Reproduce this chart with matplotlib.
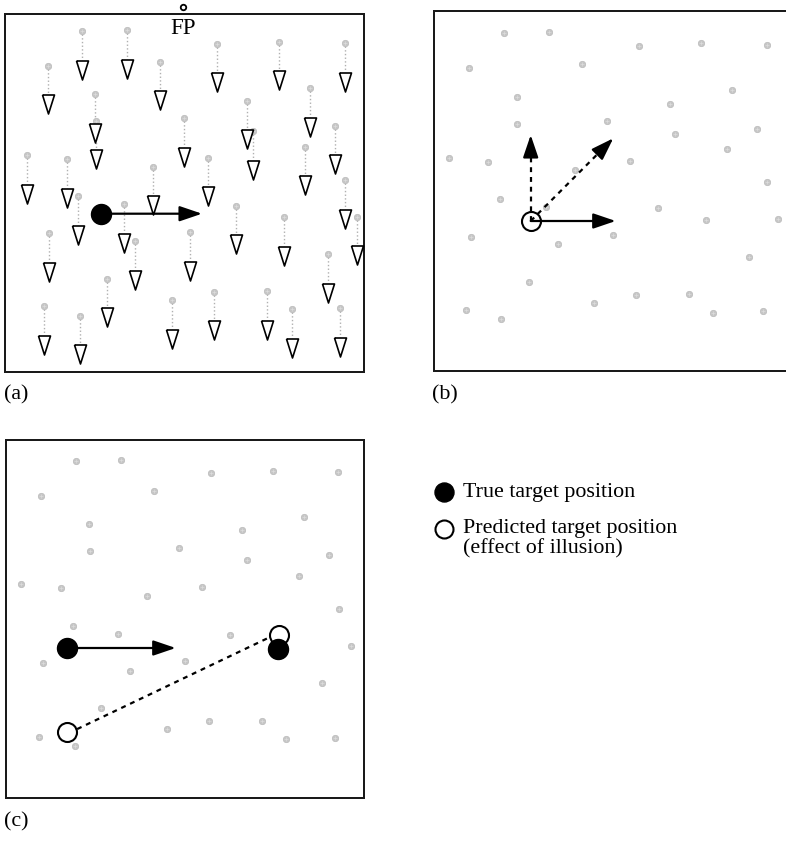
import numpy as np
import matplotlib.pyplot as plt

W, H = 786, 841          # tamaño de la figura en píxeles
PT = 72 / 100            # puntos por píxel (dpi = 100)

plt.rcParams['font.family'] = ['Liberation Serif', 'DejaVu Serif']

# Panel (a): puntos del fondo que se mueven hacia abajo
a_dot_x = [81.7, 127.0, 47.7, 160.3, 217.3, 278.7, 344.7, 95.3, 95.7, 310.3,
           247.3, 253.3, 184.3, 335.0, 304.7, 27.0, 66.7, 153.0, 207.7, 78.3,
           124.0, 236.0, 345.0, 356.7, 284.3, 49.3, 135.0, 190.3, 327.7, 106.7,
           44.0, 79.7, 172.0, 214.3, 267.0, 292.0, 340.3]
a_dot_y = [31.0, 30.0, 65.7, 61.7, 43.7, 41.7, 43.0, 94.0, 120.7, 88.0,
           100.7, 131.0, 118.3, 125.7, 146.7, 155.0, 159.0, 166.7, 157.7, 196.0,
           204.3, 205.7, 180.0, 216.7, 217.3, 233.3, 241.3, 232.3, 254.3, 278.7,
           306.3, 315.7, 300.0, 291.7, 291.0, 309.0, 308.3]
a_target = (101.0, 213.7)
a_motion_end = (202.0, 213.7)
fp_pos = (182.7, 7.3)

# Panel (b)
b_dot_x = [504.3, 549.3, 639.3, 701.0, 766.7, 469.3, 582.3, 517.3, 732.3, 669.7,
           517.3, 606.7, 675.0, 757.0, 727.0, 449.0, 488.3, 629.7, 575.0, 767.0,
           500.3, 546.3, 658.0, 706.3, 778.3, 471.0, 558.0, 612.7, 749.3, 529.0,
           636.3, 689.3, 594.0, 465.7, 501.3, 713.3, 762.7]
b_dot_y = [33.0, 31.7, 45.7, 43.3, 44.7, 68.0, 63.7, 96.7, 90.3, 104.0,
           124.3, 121.3, 134.0, 128.7, 149.3, 157.7, 162.0, 160.7, 170.0, 182.0,
           198.7, 207.3, 208.3, 219.7, 219.0, 236.7, 244.3, 234.7, 256.7, 282.3,
           295.0, 294.3, 303.0, 310.0, 319.3, 312.7, 311.3]
b_center = (530.7, 221.0)
b_solid_tip = (615.7, 221.0)
b_dashed_tips = [(530.7, 135.0), (613.3, 138.3)]

# Panel (c)
c_dot_x = [76.0, 121.0, 211.3, 272.7, 338.3, 41.3, 154.3, 89.3, 304.3, 241.7,
           90.0, 178.7, 247.3, 329.0, 299.3, 21.0, 60.7, 201.7, 147.3, 339.0,
           72.7, 118.3, 230.3, 350.7, 43.0, 185.3, 130.3, 322.0, 101.3, 208.7,
           262.0, 166.7, 38.7, 75.0, 286.0, 335.3]
c_dot_y = [461.0, 460.0, 473.0, 471.0, 472.3, 495.7, 491.3, 523.7, 517.3, 530.0,
           550.7, 547.7, 560.3, 555.0, 575.7, 584.0, 588.3, 587.0, 596.0, 609.0,
           625.7, 634.0, 635.0, 645.7, 663.3, 661.3, 671.0, 683.3, 708.3, 721.0,
           720.7, 729.0, 736.7, 745.7, 738.7, 738.0]
c_true = [(66.7, 648.0), (278.3, 648.7)]
c_pred = [(67.3, 732.0), (278.7, 635.0)]
c_motion_end = (175.7, 648.0)
c_illusion = [(68.3, 733.3), (268.7, 637.7)]

legend_labels = ["True target position", "Predicted target position\n(effect of illusion)"]
panel_labels = ["(a)", "(b)", "(c)"]

DOT = '#c6c6c6'
STEM = 29      # distancia del punto a la punta del triángulo
TRI_H = 19
TRI_W = 12
HEAD = 19      # largo de la punta de flecha en píxeles
DASH = (0, (2.2, 2.2))
FS = 15.8
tri_marker = [(-TRI_W / 2, TRI_H / 2), (TRI_W / 2, TRI_H / 2), (0, -TRI_H / 2), (-TRI_W / 2, TRI_H / 2)]


def panel(fig, x0, y0, x1, y1):
    ax = fig.add_axes([x0 / W, 1 - y1 / H, (x1 - x0) / W, (y1 - y0) / H])
    ax.set_xlim(x0, x1)
    ax.set_ylim(y1, y0)
    ax.set_xticks([])
    ax.set_yticks([])
    for s in ax.spines.values():
        s.set_linewidth(2 * PT)
        s.set_color('#1a1a1a')
    return ax


def dots(ax, xs, ys):
    ax.scatter(xs, ys, s=(6.5 * PT) ** 2, color=DOT, edgecolors='#b5b5b5',
               linewidths=0.4, zorder=2, clip_on=False)
    ax.scatter(xs, ys, s=(4 * PT) ** 2, marker='+', color='#dcdcdc',
               linewidths=0.5, zorder=2, clip_on=False)


def arrow(ax, start, end):
    ax.annotate('', xy=end, xytext=start, annotation_clip=False,
                arrowprops=dict(arrowstyle='-|>,head_length=1.0,head_width=0.34',
                                mutation_scale=HEAD * PT, lw=1.6, color='black',
                                shrinkA=0, shrinkB=0), zorder=4)


def dashed_arrow(ax, start, end):
    # línea discontinua hasta la base de la punta, y la punta sólida
    d = np.array(end) - np.array(start)
    u = d / np.hypot(*d)
    base = np.array(end) - u * HEAD
    ax.plot([start[0], base[0]], [start[1], base[1]], color='black', lw=1.6,
            linestyle=DASH, zorder=4)
    arrow(ax, tuple(base - u * 0.5), end)


fig = plt.figure(figsize=(W / 100, H / 100), dpi=100)
bg = fig.add_axes([0, 0, 1, 1], zorder=-1)
bg.set_xlim(0, W)
bg.set_ylim(H, 0)
bg.axis('off')

# (a)
ax = panel(fig, 5, 14, 364, 372)
ay = np.array(a_dot_y)
ax.vlines(a_dot_x, ay + 3, ay + STEM, colors='#b0b0b0', linestyles=':', linewidth=1.0, zorder=1)
dots(ax, a_dot_x, a_dot_y)
ax.plot(a_dot_x, ay + STEM + TRI_H / 2, linestyle='none', marker=tri_marker,
        markersize=TRI_H * PT, markerfacecolor='white', markeredgecolor='black',
        markeredgewidth=1.2, zorder=3, clip_on=False)
arrow(ax, a_target, a_motion_end)
ax.plot(*a_target, 'o', color='black', markersize=20 * PT, zorder=5)
ax.plot(*fp_pos, 'o', markerfacecolor='white', markeredgecolor='black',
        markersize=5.5 * PT, markeredgewidth=1.3, clip_on=False, zorder=5)
ax.text(fp_pos[0], 28, "FP", ha='center', va='center', fontsize=16.5)

# (b)
ax = panel(fig, 434, 11, 792, 371)
dots(ax, b_dot_x, b_dot_y)
arrow(ax, b_center, b_solid_tip)
for tip in b_dashed_tips:
    dashed_arrow(ax, b_center, tip)
ax.plot(*b_center, 'o', markerfacecolor='none', markeredgecolor='black',
        markersize=19 * PT, markeredgewidth=1.5, zorder=5)

# (c)
ax = panel(fig, 6, 440, 364, 798)
dots(ax, c_dot_x, c_dot_y)
arrow(ax, c_true[0], c_motion_end)
ix, iy = zip(*c_illusion)
ax.plot(ix, iy, color='black', lw=1.6, linestyle=DASH, zorder=3)
px, py = zip(*c_pred)
ax.plot(px, py, 'o', linestyle='none', markerfacecolor='white', markeredgecolor='black',
        markersize=19 * PT, markeredgewidth=1.5, zorder=4)
tx, ty = zip(*c_true)
ax.plot(tx, ty, 'o', linestyle='none', color='black', markersize=20 * PT, zorder=5)

# leyenda y etiquetas de los paneles
bg.plot(444.3, 492, 'o', color='black', markersize=19 * PT)
bg.plot(444.3, 529, 'o', markerfacecolor='white', markeredgecolor='black',
        markersize=18 * PT, markeredgewidth=1.5)
bg.text(463, 492, legend_labels[0], va='center', ha='left', fontsize=FS)
bg.text(463, 529, legend_labels[1].split('\n')[0], va='center', ha='left', fontsize=FS)
bg.text(463, 549, legend_labels[1].split('\n')[1], va='center', ha='left', fontsize=FS)

for (x, y), lab in zip([(4, 395), (432, 395), (4, 822)], panel_labels):
    bg.text(x, y, lab, va='center', ha='left', fontsize=FS)

fig.savefig('out.png', dpi=100)
